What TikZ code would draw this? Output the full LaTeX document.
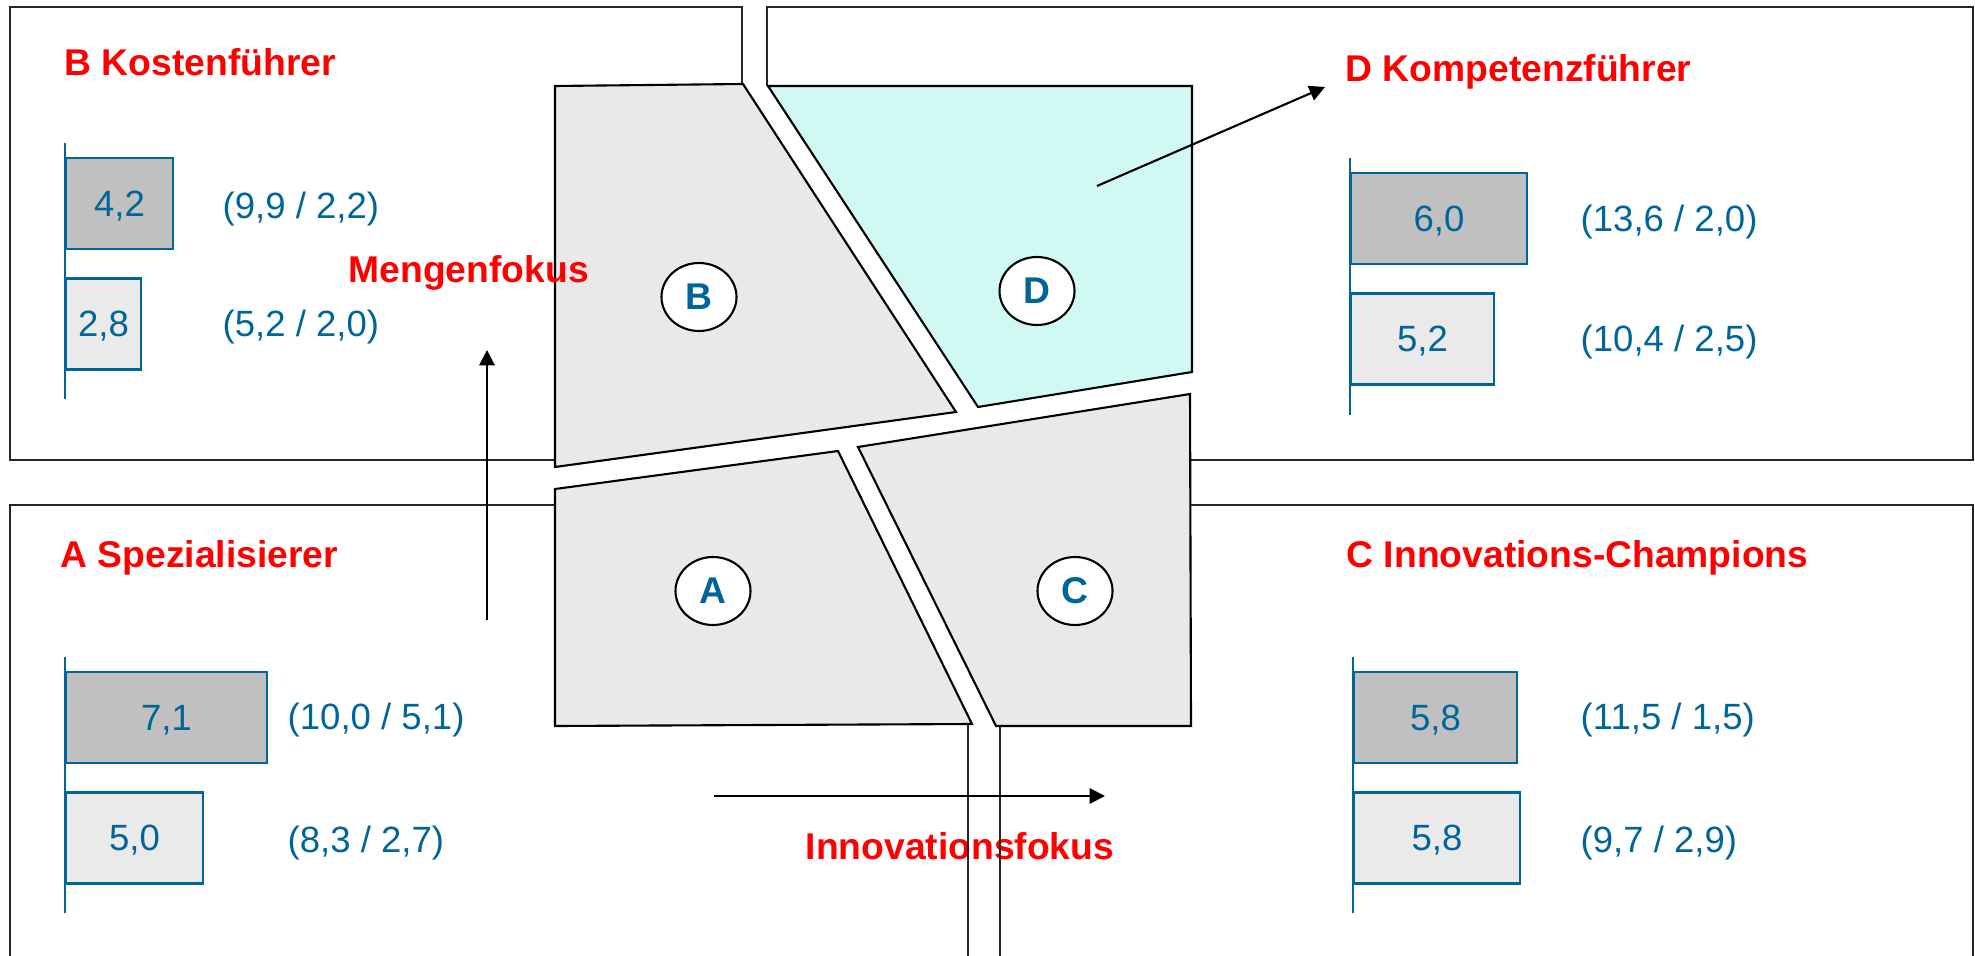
\documentclass[tikz,border=0pt]{standalone}
\usepackage{fontspec}
\setmainfont{Liberation Sans}
\usepackage{tikz}
\usetikzlibrary{arrows.meta, shapes.geometric}
\definecolor{kblue}{RGB}{0,102,153}
\definecolor{barDark}{RGB}{192,192,192}
\definecolor{barLight}{RGB}{234,234,234}
\definecolor{fieldGray}{RGB}{233,233,233}
\definecolor{fieldCyan}{RGB}{208,249,243}

\begin{document}
\begin{tikzpicture}[x=1cm, y=-1cm, >={Triangle[length=4.4pt, width=4.4pt]},
  every node/.style={font=\fontsize{10.4}{12}\selectfont},
  quadbox/.style={draw=black!85, line width=0.75pt},
  field/.style={draw=black, line width=0.6pt, fill=fieldGray},
  axisline/.style={draw=kblue, line width=0.6pt},
  bar/.style={draw=kblue, line width=0.6pt, text=kblue, anchor=west, inner sep=0pt,
    minimum height=0.91cm, text depth=0pt},
  bardark/.style={bar, fill=barDark},
  barlight/.style={bar, fill=barLight},
  pair/.style={text=kblue, anchor=west, inner sep=0pt},
  heading/.style={text=red, anchor=base west, inner sep=0pt, font=\fontsize{10.6}{12}\selectfont\bfseries},
  lettercirc/.style={ellipse, draw=black, line width=0.6pt, fill=white, minimum width=0.75cm,
    minimum height=0.68cm, inner sep=0pt, text=kblue, font=\fontsize{10.6}{12}\selectfont\bfseries},
  focusarrow/.style={->, line width=0.6pt}]

  \useasboundingbox (0,0) rectangle (19.75,9.56);

  % Innovation label sits under the frame lines
  \node[heading] (if) at (8.05,8.59) {Innovationsfokus};

  % Quadrant frames
  \draw[quadbox] (0.10,0.07) rectangle (7.42,4.60);
  \draw[quadbox] (7.67,0.07) rectangle (19.73,4.60);
  \draw[quadbox] (0.10,5.05) rectangle (9.68,10.20);
  \draw[quadbox] (10.00,5.05) rectangle (19.73,10.20);

  % Clear the middle, then the four fields
  \fill[white] (5.55,0.86) -- (7.43,0.84) -- (7.68,0.86) -- (11.92,0.86) -- (11.92,3.72)
    -- (11.90,3.94) -- (11.91,7.26) -- (9.96,7.26) -- (9.72,7.24) -- (5.55,7.26) -- cycle;
  \draw[field] (5.55,0.86) -- (7.43,0.84) -- (9.56,4.12) -- (5.55,4.67) -- cycle;
  \draw[field, fill=fieldCyan] (7.68,0.86) -- (11.92,0.86) -- (11.92,3.72) -- (9.78,4.07) -- cycle;
  \draw[field] (5.55,4.89) -- (8.38,4.51) -- (9.72,7.24) -- (5.55,7.26) -- cycle;
  \draw[field] (8.58,4.47) -- (11.90,3.94) -- (11.91,7.26) -- (9.96,7.26) -- cycle;

  \node[lettercirc] (cB) at (6.99,2.97) {B};
  \node[lettercirc] (cD) at (10.37,2.91) {D};
  \node[lettercirc] (cA) at (7.13,5.91) {A};
  \node[lettercirc] (cC) at (10.75,5.91) {C};

  % B Kostenfuehrer
  \node[heading] (tB) at (0.64,0.76) {B Kostenführer};
  \draw[axisline] (0.65,1.43) -- (0.65,3.99);
  \node[bardark, minimum width=1.07cm] (bB1) at (0.65,2.035) {4,2};
  \node[barlight, minimum width=0.75cm] (bB2) at (0.65,3.24) {2,8};
  \node[pair] (pB1) at (2.22,2.09) {(9,9 / 2,2)};
  \node[pair] (pB2) at (2.22,3.27) {(5,2 / 2,0)};

  % D Kompetenzfuehrer
  \node[heading] (tD) at (13.45,0.82) {D Kompetenzführer};
  \draw[axisline] (13.50,1.58) -- (13.50,4.15);
  \node[bardark, minimum width=1.76cm] (bD1) at (13.50,2.185) {6,0};
  \node[barlight, minimum width=1.43cm] (bD2) at (13.50,3.39) {5,2};
  \node[pair] (pD1) at (15.80,2.22) {(13,6 / 2,0)};
  \node[pair] (pD2) at (15.80,3.42) {(10,4 / 2,5)};

  % A Spezialisierer
  \node[heading] (tA) at (0.60,5.67) {A Spezialisierer};
  \draw[axisline] (0.65,6.57) -- (0.65,9.13);
  \node[bardark, minimum width=2.01cm] (bA1) at (0.65,7.175) {7,1};
  \node[barlight, minimum width=1.37cm] (bA2) at (0.65,8.38) {5,0};
  \node[pair] (pA1) at (2.87,7.20) {(10,0 / 5,1)};
  \node[pair] (pA2) at (2.87,8.43) {(8,3 / 2,7)};

  % C Innovations-Champions
  \node[heading] (tC) at (13.46,5.67) {C Innovations-Champions};
  \draw[axisline] (13.53,6.57) -- (13.53,9.13);
  \node[bardark, minimum width=1.63cm] (bC1) at (13.53,7.175) {5,8};
  \node[barlight, minimum width=1.66cm] (bC2) at (13.53,8.38) {5,8};
  \node[pair] (pC1) at (15.80,7.20) {(11,5 / 1,5)};
  \node[pair] (pC2) at (15.80,8.43) {(9,7 / 2,9)};

  % Focus arrows
  \coordinate (mfTail) at (4.87,6.20);
  \coordinate (mfHead) at (4.87,3.50);
  \draw[focusarrow] (mfTail) -- (mfHead);
  \node[heading] (mf) at (3.48,2.83) {Mengenfokus};

  \coordinate (ifTail) at (7.14,7.96);
  \coordinate (ifHead) at (11.05,7.96);
  \draw[focusarrow] (ifTail) -- (ifHead);

  \coordinate (dTail) at (10.97,1.86);
  \coordinate (dHead) at (13.25,0.87);
  \draw[focusarrow] (dTail) -- (dHead);
\end{tikzpicture}
\end{document}
